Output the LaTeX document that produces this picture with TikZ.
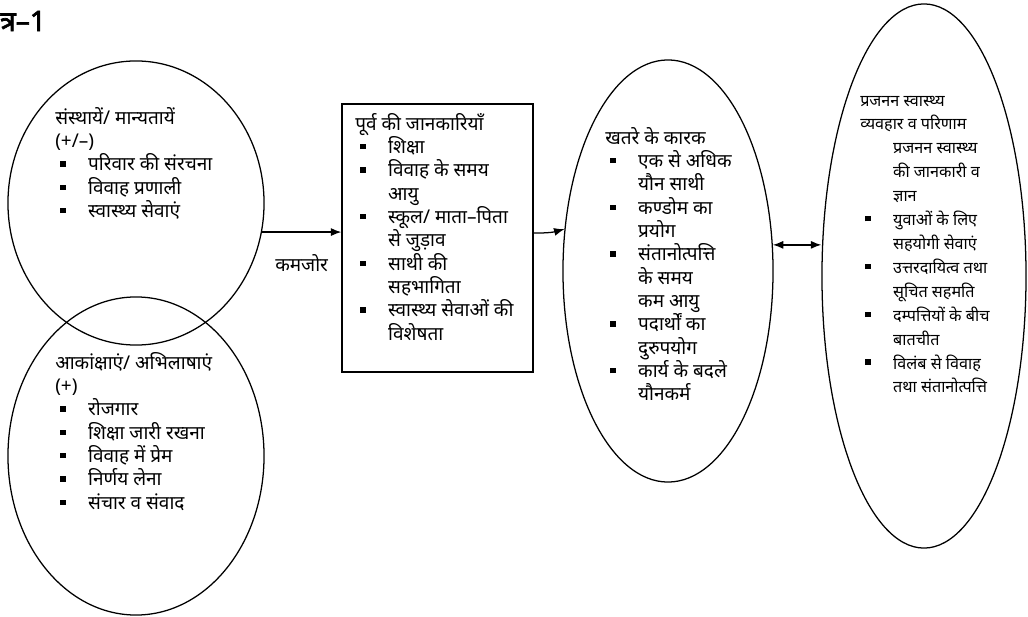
\documentclass[tikz,border=0pt]{standalone}
\usepackage{fontspec}
\newfontfamily\hindi[Script=Devanagari]{Noto Sans}
\newfontfamily\hindibf[Script=Devanagari, FakeBold=2.5]{Noto Sans}
\usetikzlibrary{positioning, shapes.geometric, arrows.meta}

\newcommand\blt{\makebox[23.4pt][l]{\hspace{3.5pt}\raisebox{3pt}{\rule{3.8pt}{3.8pt}}}}
\newcommand\ind{\hspace*{23.4pt}}
\newcommand\topstrut{\rule{0pt}{15pt}}

\begin{document}
\begin{tikzpicture}[
  x=0.025cm, y=-0.025cm,
  blob/.style  = {draw, ellipse, inner sep=0pt, line width=0.9pt},
  panel/.style = {draw, rectangle, inner sep=0pt, line width=0.9pt},
  lst/.style   = {anchor=north west, inner sep=0pt, align=left,
                  font=\hindi\fontsize{13.5}{16.6}\selectfont},
  lstsm/.style = {lst, font=\hindi\fontsize{11.5}{17}\selectfont},
  arr/.style   = {-{Latex[length=2.6mm, width=2mm]}, line width=0.9pt},
  dbl/.style   = {{Latex[length=2.6mm, width=2mm]}-{Latex[length=2.6mm, width=2mm]}, line width=0.9pt},
]
\useasboundingbox (0,0) rectangle (1028,617);

% ---- caption ----------------------------------------------------------------
\node[font=\hindibf\fontsize{20}{24}\selectfont, anchor=west, inner sep=0pt] (fig) at (0,21) {त्र–1};

% ---- the outlines -----------------------------------------------------------
\node[blob,  minimum width=6.4cm,   minimum height=7.1cm]   (inst)  at (136,203)   {};
\node[blob,  minimum width=6.4cm,   minimum height=7.95cm]  (asp)   at (136,456)   {};
\node[panel, minimum width=4.775cm, minimum height=6.7cm]   (prior) at (437.5,238) {};
\node[blob,  minimum width=5.25cm,  minimum height=10.55cm] (risk)  at (668,271)   {};
\node[blob,  minimum width=5.1cm,   minimum height=13.6cm]  (rh)    at (924,276)   {};

% ---- what stands in them ----------------------------------------------------
\node[lst] (instT) at (55,102.7)
  {\topstrut संस्थायें/ मान्यतायें\\ (+/–)\\
   \blt परिवार की संरचना\\ \blt विवाह प्रणाली\\ \blt स्वास्थ्य सेवाएं};
\node[lst] (aspT) at (55,347.7)
  {\topstrut आकांक्षाएं/ अभिलाषाएं\\ (+)\\
   \blt रोजगार\\ \blt शिक्षा जारी रखना\\ \blt विवाह में प्रेम\\ \blt निर्णय लेना\\ \blt संचार व संवाद};
\node[lst] (priorT) at (355,108.7)
  {\topstrut पूर्व की जानकारियाँ\\
   \blt शिक्षा\\ \blt विवाह के समय\\ \ind आयु\\ \blt स्कूल/ माता–पिता\\ \ind से जुड़ाव\\
   \blt साथी की\\ \ind सहभागिता\\ \blt स्वास्थ्य सेवाओं की\\ \ind विशेषता};
\node[lst] (riskT) at (605,122.7)
  {\topstrut खतरे के कारक\\
   \blt एक से अधिक\\ \ind यौन साथी\\ \blt कण्डोम का\\ \ind प्रयोग\\
   \blt संतानोत्पत्ति\\ \ind के समय\\ \ind कम आयु\\ \blt पदार्थों का\\ \ind दुरुपयोग\\
   \blt कार्य के बदले\\ \ind यौनकर्म};
\node[lstsm] (rhT) at (860,84.7)
  {\topstrut प्रजनन स्वास्थ्य\\ व्यवहार व परिणाम\\
   \ind प्रजनन स्वास्थ्य\\ \ind की जानकारी व\\ \ind ज्ञान\\
   \blt युवाओं के लिए\\ \ind सहयोगी सेवाएं\\ \blt उत्तरदायित्व तथा\\ \ind सूचित सहमति\\
   \blt दम्पत्तियों के बीच\\ \ind बातचीत\\ \blt विलंब से विवाह\\ \ind तथा संतानोत्पत्ति};

% ---- connectors -------------------------------------------------------------
\draw[arr] (inst.-13.5) -- (inst.-13.5 -| prior.west)
  node[midway, below=5.5mm, inner sep=0pt, font=\hindi\fontsize{13.5}{16.6}\selectfont] (weak) {कमजोर};
\draw[arr] ([yshift=1.25mm]prior.east) to[bend right=8] (risk.158);
\draw[dbl] (risk.14.6) -- (risk.14.6 -| rh.west);

\end{tikzpicture}
\end{document}
